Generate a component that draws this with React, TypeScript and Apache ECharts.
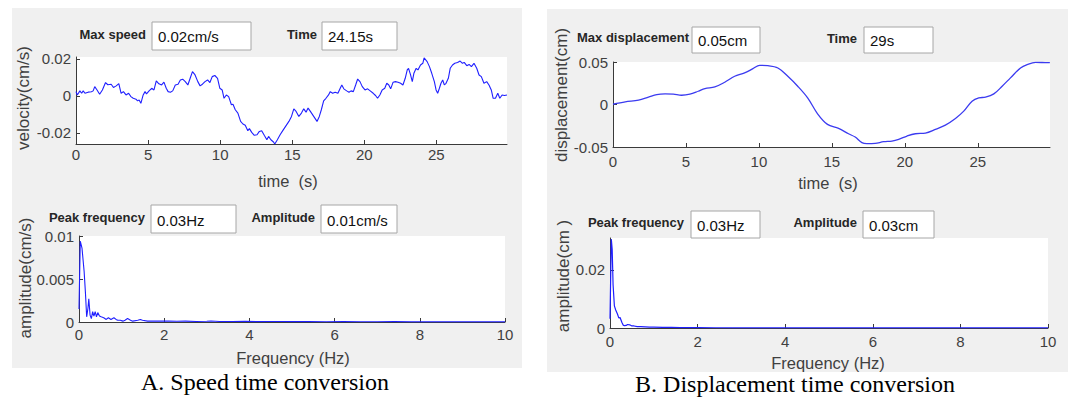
import React, { useEffect, useRef } from "react";
import * as echarts from "echarts";

// ---- time-domain velocity (cm/s) ----
const velTime = [
  0, 0.09, 0.27, 0.39, 0.5, 0.62, 0.84, 1.07, 1.19, 1.3, 1.46, 1.64, 1.83, 2.05, 2.21, 2.44, 2.6, 2.79, 2.97,
  3.13, 3.29, 3.47, 3.65, 3.81, 3.97, 4.16, 4.27, 4.38, 4.5, 4.66, 4.79, 4.89, 5.07, 5.25, 5.41, 5.57, 5.75,
  5.94, 6.1, 6.26, 6.39, 6.55, 6.71, 6.89, 7.08, 7.24, 7.4, 7.58, 7.76, 7.92, 8.08, 8.26, 8.45, 8.61, 8.77,
  8.95, 9.13, 9.29, 9.45, 9.63, 9.82, 9.98, 10.14, 10.27, 10.43, 10.59, 10.78, 10.89, 11.05, 11.23, 11.42,
  11.58, 11.74, 11.92, 12.03, 12.19, 12.37, 12.56, 12.72, 12.88, 13.06, 13.24, 13.36, 13.52, 13.7, 13.79,
  13.97, 14.16, 14.31, 14.54, 14.77, 14.95, 15.11, 15.27, 15.46, 15.64, 15.8, 15.96, 16.1, 16.26, 16.49,
  16.72, 16.88, 17.02, 17.18, 17.34, 17.52, 17.64, 17.8, 17.98, 18.17, 18.33, 18.44, 18.58, 18.78, 18.94,
  19.08, 19.24, 19.4, 19.54, 19.7, 19.86, 20.05, 20.23, 20.41, 20.62, 20.78, 20.92, 21.08, 21.24, 21.42,
  21.56, 21.7, 21.83, 22.0, 22.16, 22.34, 22.52, 22.68, 22.84, 22.98, 23.07, 23.21, 23.33, 23.44, 23.6,
  23.72, 23.9, 24.06, 24.15, 24.36, 24.52, 24.68, 24.86, 24.98, 25.09, 25.21, 25.32, 25.44, 25.55, 25.67,
  25.83, 25.96, 26.12, 26.28, 26.47, 26.65, 26.81, 26.93, 27.11, 27.27, 27.43, 27.61, 27.8, 27.96, 28.12,
  28.3, 28.49, 28.65, 28.81, 28.94, 29.1, 29.26, 29.4, 29.56, 29.72, 29.9,
];
const velValue = [
  0.0023, 0.0005, 0.0027, 0.0014, 0.0027, 0.0014, 0.002, 0.0022, 0.0027, 0.005, 0.0032, 0.0009, 0.0032,
  0.0072, 0.006, 0.0063, 0.0045, 0.0054, 0.0066, 0.0014, 0.0023, 0.0005, 0.0014, -0.0004, -0.0013, -0.0018,
  -0.0027, -0.0022, -0.004, 0.0005, 0.0023, 0.0011, 0.0027, 0.0041, 0.0032, 0.0081, 0.0065, 0.0059, 0.0074,
  0.0041, 0.0023, 0.002, 0.0027, 0.0059, 0.0063, 0.0086, 0.009, 0.0077, 0.0059, 0.0095, 0.0131, 0.0113,
  0.0077, 0.0054, 0.0063, 0.0077, 0.0086, 0.0072, 0.0104, 0.011, 0.0095, 0.0041, 0.0032, -0.0013, 0.0005,
  -0.0004, -0.0048, -0.0045, -0.0075, -0.0093, -0.0138, -0.0152, -0.0159, -0.0188, -0.0177, -0.0197,
  -0.0213, -0.021, -0.0192, -0.0188, -0.0213, -0.0237, -0.0219, -0.0237, -0.0249, -0.026, -0.0237, -0.021,
  -0.0192, -0.0165, -0.0138, -0.0111, -0.007, -0.0084, -0.0111, -0.0093, -0.007, -0.0088, -0.0066, -0.0084,
  -0.0111, -0.0138, -0.0111, -0.0075, -0.0027, -0.0013, 0.0005, 0.0023, 0.0014, 0.002, 0.0014, 0.0041,
  0.0059, 0.0038, 0.0027, 0.002, 0.0027, 0.0023, 0.0059, 0.0091, 0.0077, 0.005, 0.0032, 0.0038, 0.0027,
  0.0014, 0.0002, -0.0013, 0.0005, 0.0032, 0.0041, 0.0068, 0.0059, 0.0038, 0.0074, 0.0077, 0.0074, 0.0068,
  0.0059, 0.0095, 0.014, 0.0149, 0.0113, 0.0077, 0.0122, 0.0149, 0.014, 0.0167, 0.0176, 0.0205, 0.0185,
  0.0158, 0.0122, 0.0077, 0.0032, 0.0014, 0.0041, 0.0068, 0.0086, 0.0059, 0.0068, 0.0095, 0.0149, 0.0167,
  0.0176, 0.018, 0.0188, 0.0176, 0.0181, 0.0163, 0.017, 0.0158, 0.0176, 0.0149, 0.0113, 0.0104, 0.0068,
  0.0077, 0.0059, 0.0032, -0.0013, -0.0013, 0.0014, -0.0013, 0.0005, 0.0002, 0.0005,
];

// ---- velocity spectrum (cm/s) ----
const freqA = [
  0, 0.03, 0.07, 0.12, 0.15, 0.18, 0.21, 0.23, 0.26, 0.29, 0.32, 0.35, 0.38, 0.41, 0.44, 0.48, 0.52, 0.58,
  0.64, 0.69, 0.75, 0.82, 0.87, 0.91, 0.97, 1.03, 1.08, 1.14, 1.21, 1.26, 1.38, 1.44, 1.49, 1.61, 1.77, 1.92,
  2.1, 2.3, 2.5, 2.75, 3.0, 3.1, 3.3, 3.6, 3.9, 4.2, 4.5, 4.75, 5.0, 5.4, 5.8, 6.2, 6.6, 7.0, 7.4, 7.8, 8.2,
  8.6, 9.0, 9.4, 9.7, 10,
];
const ampA = [
  0.0015, 0.0094, 0.0086, 0.0059, 0.0035, 0.0006, 0.0016, 0.0027, 0.0008, 0.0004, 0.0012, 0.0007, 0.0012,
  0.0006, 0.0011, 0.0007, 0.0006, 0.0005, 0.0003, 0.0005, 0.0003, 0.0005, 0.0003, 0.0002, 0.0002, 0.0001,
  0.0002, 0.0004, 0.0002, 0.0001, 0.0002, 0.0003, 0.0002, 0.0001, 0.0001, 0.0001, 0.00012, 0.00008, 0.0001,
  0.00006, 0.00008, 0.00012, 0.00006, 0.00005, 0.00007, 0.00004, 0.00006, 0.00005, 0.00004, 0.00005,
  0.00003, 0.00004, 0.00003, 0.00003, 0.00004, 0.00002, 0.00003, 0.00002, 0.00003, 0.00002, 0.00002, 0.00002,
];

// ---- time-domain displacement (cm) ----
const dispTime = [
  0, 0.84, 1.75, 2.43, 3.0, 3.57, 4.14, 4.7, 5.27, 5.84, 6.3, 6.98, 7.66, 8.34, 9.02, 9.59, 10.05, 10.61,
  11.3, 11.98, 12.66, 13.34, 14.02, 14.7, 15.46, 16.14, 16.6, 17.06, 17.4, 17.97, 18.55, 19.12, 19.58, 20.15,
  20.72, 21.41, 22.09, 22.78, 23.47, 24.04, 24.61, 25.07, 25.53, 26.1, 26.67, 27.24, 27.93, 28.39, 28.96,
  29.41, 29.94,
];
const dispValue = [
  0.0003, 0.0031, 0.0051, 0.0086, 0.0117, 0.0125, 0.0121, 0.0109, 0.0121, 0.0156, 0.0188, 0.0207, 0.0262,
  0.0332, 0.0371, 0.0422, 0.0461, 0.0457, 0.043, 0.0332, 0.0215, 0.0078, -0.0109, -0.0234, -0.0281, -0.0344,
  -0.0383, -0.0449, -0.0461, -0.0457, -0.0438, -0.043, -0.041, -0.0371, -0.0344, -0.0336, -0.0293, -0.0242,
  -0.0164, -0.0078, 0.0039, 0.0078, 0.0086, 0.0125, 0.0215, 0.0313, 0.043, 0.0469, 0.0495, 0.0494, 0.0492,
];

// ---- displacement spectrum (cm) ----
const freqB = [
  0, 0.03, 0.05, 0.07, 0.1, 0.13, 0.17, 0.2, 0.23, 0.27, 0.3, 0.33, 0.37, 0.4, 0.45, 0.5, 0.55, 0.62, 0.7,
  0.8, 0.9, 1.0, 1.2, 1.4, 1.6, 1.8, 2.0, 2.4, 2.8, 3.2, 3.6, 4.0, 4.5, 5.0, 5.5, 6.0, 6.5, 7.0, 7.5, 8.0,
  8.5, 9.0, 9.5, 10,
];
const ampB = [
  0.0032, 0.0306, 0.027, 0.015, 0.0076, 0.0062, 0.0048, 0.0035, 0.0036, 0.002, 0.001, 0.0008, 0.0009,
  0.0012, 0.0011, 0.0007, 0.0007, 0.0005, 0.0005, 0.0004, 0.0003, 0.0003, 0.0002, 0.0002, 0.00015, 0.00012,
  0.0001, 0.00008, 0.00006, 0.00005, 0.00004, 0.00004, 0.00003, 0.00003, 0.00002, 0.00002, 0.00002, 0.00002,
  0.00001, 0.00001, 0.00001, 0.00001, 0.00001, 0.00001,
];

// ---- tick labels ----
const timeTicks = [0, 5, 10, 15, 20, 25];
const freqTicks = [0, 2, 4, 6, 8, 10];
const velTicks = [-0.02, 0, 0.02];
const ampATicks = [0, 0.005, 0.01];
const dispTicks = [-0.05, 0, 0.05];
const ampBTicks = [0, 0.02];

// ---- readouts ----
const readoutsA = { maxSpeed: "0.02cm/s", time: "24.15s", peakFreq: "0.03Hz", amplitude: "0.01cm/s" };
const readoutsB = { maxDisp: "0.05cm", time: "29s", peakFreq: "0.03Hz", amplitude: "0.03cm" };

const SANS = '"Liberation Sans", Arial, sans-serif';
const SERIF = '"Liberation Serif", "Times New Roman", serif';
const AXIS = "#3a3a3a";
const TXT = "#404040";
const BLUE = "#1f1fff";

const zip = (xs: number[], ys: number[]) => xs.map((x, i) => [x, ys[i]]);
const fmt = (v: number) => String(+Number(v).toPrecision(6));

function xAxis(gridIndex: number, max: number, ticks: number[], margin: number) {
  return {
    type: "value",
    gridIndex,
    min: 0,
    max,
    axisLine: { show: true, onZero: false, lineStyle: { color: AXIS, width: 1 } },
    axisTick: { show: true, inside: true, length: 4, customValues: ticks, lineStyle: { color: AXIS } },
    axisLabel: { show: true, customValues: ticks, margin, color: TXT, fontSize: 15, fontFamily: SANS, formatter: fmt },
    splitLine: { show: false },
  };
}

function yAxis(gridIndex: number, min: number, max: number, ticks: number[]) {
  return {
    type: "value",
    gridIndex,
    min,
    max,
    axisLine: { show: true, onZero: false, lineStyle: { color: AXIS, width: 1 } },
    axisTick: { show: true, inside: true, length: 4, customValues: ticks, lineStyle: { color: AXIS } },
    axisLabel: { show: true, customValues: ticks, margin: 5, color: TXT, fontSize: 15, fontFamily: SANS, formatter: fmt },
    splitLine: { show: false },
  };
}

function label(text: string, right: number, cy: number) {
  return {
    type: "text",
    x: right,
    y: cy,
    z: 10,
    style: { text, fill: "#262626", fontSize: 13, fontWeight: "bold", fontFamily: SANS, align: "right", verticalAlign: "middle" },
  };
}

function box(x: number, y: number, w: number, h: number, text: string, ty: number) {
  return [
    { type: "rect", z: 10, shape: { x, y, width: w, height: h }, style: { fill: "#ffffff", stroke: "#a6a6a6", lineWidth: 1 } },
    {
      type: "text",
      z: 11,
      x: x + 6,
      y: ty,
      style: { text, fill: "#111", fontSize: 15, fontFamily: SANS, align: "left", verticalAlign: "middle" },
    },
  ];
}

function axisName(text: string, x: number, y: number, vertical = false) {
  return {
    type: "text",
    x,
    y,
    z: 10,
    rotation: vertical ? Math.PI / 2 : 0,
    style: { text, fill: TXT, fontSize: vertical ? 17 : 16.5, fontFamily: SANS, align: "center", verticalAlign: "middle" },
  };
}

export default function App() {
  const ref = useRef<HTMLDivElement>(null);

  useEffect(() => {
    if (!ref.current) return;
    const chart = echarts.init(ref.current, null, { renderer: "svg" });

    const grids = [
      { left: 76, top: 57, width: 431, height: 87 },
      { left: 79, top: 236, width: 426, height: 86 },
      { left: 613, top: 62, width: 437, height: 85 },
      { left: 610, top: 238, width: 438, height: 90 },
    ].map((g) => ({ ...g, show: true, backgroundColor: "#ffffff", borderWidth: 0, containLabel: false }));

    const lineSeries = (i: number, data: number[][], color: string, width: number, smooth: number | boolean) => ({
      type: "line",
      xAxisIndex: i,
      yAxisIndex: i,
      data,
      showSymbol: false,
      symbol: "none",
      smooth,
      clip: true,
      lineStyle: { color, width },
      emphasis: { disabled: true },
    });

    const graphic: any[] = [
      // panel backgrounds
      { type: "rect", z: -10, shape: { x: 12, y: 8, width: 510, height: 360 }, style: { fill: "#f0f0f0" } },
      { type: "rect", z: -10, shape: { x: 547, y: 9, width: 521, height: 363 }, style: { fill: "#f0f0f0" } },

      // panel A readouts
      label("Max speed", 146, 34),
      ...box(152, 22, 99, 28, readoutsA.maxSpeed, 36),
      label("Time", 317, 34),
      ...box(322, 22, 75, 28, readoutsA.time, 36),
      label("Peak frequency", 145, 217),
      ...box(151, 205, 85, 28, readoutsA.peakFreq, 220),
      label("Amplitude", 315, 217),
      ...box(321, 205, 76, 28, readoutsA.amplitude, 220),

      // panel B readouts
      label("Max displacement", 689, 37),
      ...box(692, 27, 68, 26, readoutsB.maxDisp, 40),
      label("Time", 857, 38),
      ...box(864, 27, 69, 26, readoutsB.time, 40),
      label("Peak frequency", 684, 222),
      ...box(691, 211, 69, 27, readoutsB.peakFreq, 225),
      label("Amplitude", 857, 222),
      ...box(863, 211, 71, 27, readoutsB.amplitude, 225),

      // axis names
      axisName("time  (s)", 288, 181),
      axisName("Frequency (Hz)", 293, 358),
      axisName("time  (s)", 828, 183),
      axisName("Frequency (Hz)", 828, 363),
      axisName("velocity(cm/s)", 23, 98, true),
      axisName("amplitude(cm/s)", 25, 278, true),
      axisName("displacement(cm)", 561, 95, true),
      axisName("amplitude(cm )", 563, 276, true),

      // captions
      {
        type: "text",
        x: 265,
        y: 382,
        style: { text: "A. Speed time conversion", fill: "#000", fontSize: 24, fontFamily: SERIF, align: "center", verticalAlign: "middle" },
      },
      {
        type: "text",
        x: 795,
        y: 384,
        style: { text: "B. Displacement time conversion", fill: "#000", fontSize: 24, fontFamily: SERIF, align: "center", verticalAlign: "middle" },
      },
    ];

    chart.setOption({
      animation: false,
      backgroundColor: "#ffffff",
      grid: grids,
      xAxis: [
        xAxis(0, 29.9, timeTicks, 3),
        xAxis(1, 10, freqTicks, 5),
        xAxis(2, 29.95, timeTicks, 7),
        xAxis(3, 10, freqTicks, 6),
      ],
      yAxis: [
        yAxis(0, -0.026, 0.021, velTicks),
        yAxis(1, 0, 0.01, ampATicks),
        yAxis(2, -0.05, 0.05, dispTicks),
        yAxis(3, 0, 0.031, ampBTicks),
      ],
      series: [
        lineSeries(0, zip(velTime, velValue), BLUE, 1.1, false),
        lineSeries(1, zip(freqA, ampA), BLUE, 1.1, false),
        lineSeries(2, zip(dispTime, dispValue), "#3b3bf0", 1.3, 0.35),
        lineSeries(3, zip(freqB, ampB), BLUE, 1.2, false),
      ],
      graphic,
    });

    return () => chart.dispose();
  }, []);

  return (
    <div
      ref={ref}
      style={{ position: "fixed", left: 0, top: 0, width: 1072, height: 398, background: "#fff" }}
    />
  );
}
